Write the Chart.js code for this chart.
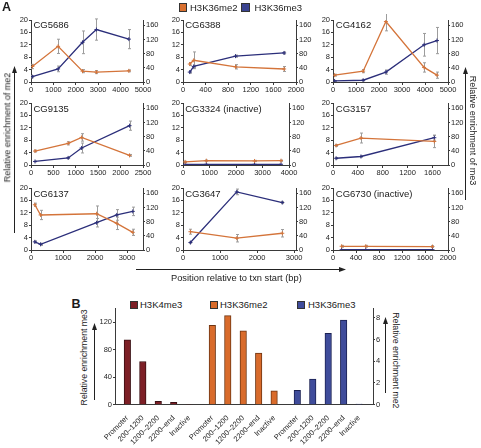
<!DOCTYPE html>
<html><head><meta charset="utf-8">
<script src="https://cdn.jsdelivr.net/npm/chart.js@4"></script>
<style>
html,body{margin:0;padding:0;background:#fff}
body{width:481px;height:448px;overflow:hidden;position:relative;font-family:"Liberation Sans",Arial,sans-serif;color:#1a1a1a}
canvas{position:absolute}
.t{position:absolute;white-space:nowrap;line-height:1}
.sq{position:absolute;box-sizing:border-box;border:1px solid #333}
svg{position:absolute;left:0;top:0}
</style></head><body>
<script>
// ---------- Panel A data (position bp, H3K36me2 on left axis, H3K36me3 on right axis) ----------
const cg5686Pos = [60, 1210, 2300, 2920, 4370];
const cg5686Me2 = [5.0, 11.5, 3.5, 3.2, 3.6];
const cg5686Me2Err = [0.7, 2.3, 0.5, 0.5, 0.3];
const cg5686Me3 = [15, 37, 112, 148, 121];
const cg5686Me3Err = [3, 8, 32, 30, 27];

const cg6388Pos = [120, 190, 930, 1790];
const cg6388Me2 = [5.8, 7.0, 4.9, 4.2];
const cg6388Me2Err = [0.5, 2.7, 0.7, 0.8];
const cg6388Me3 = [28, 44, 73, 82];
const cg6388Me3Err = [3, 3, 3, 3];

const cg4162Pos = [70, 1310, 2300, 3960, 4520];
const cg4162Me2 = [2.2, 3.5, 19.5, 4.7, 2.2];
const cg4162Me2Err = [0.3, 0.5, 3.0, 1.5, 1.0];
const cg4162Me3 = [3, 5, 28, 105, 117];
const cg4162Me3Err = [1, 2, 6, 32, 37];

const cg9135Pos = [90, 830, 1130, 2200];
const cg9135Me2 = [4.5, 7.0, 8.9, 3.1];
const cg9135Me2Err = [0.3, 0.5, 1.2, 0.3];
const cg9135Me3 = [10, 20, 48, 111];
const cg9135Me3Err = [1, 2, 14, 13];

const cg3324Pos = [80, 880, 2700, 3700];
const cg3324Me2 = [1.0, 1.4, 1.3, 1.4];
const cg3324Me2Err = [0.2, 0.2, 0.2, 0.2];
const cg3324Me3 = [2, 2, 2, 2];
const cg3324Me3Err = [0, 0, 0, 0];

const cg3157Pos = [50, 450, 1630];
const cg3157Me2 = [6.3, 8.7, 7.6];
const cg3157Me2Err = [0.3, 1.6, 2.0];
const cg3157Me3 = [19, 24, 77];
const cg3157Me3Err = [2, 2, 7];

const cg6137Pos = [120, 300, 2050, 2680, 3180];
const cg6137Me2 = [14.6, 11.3, 11.7, 8.6, 5.7];
const cg6137Me2Err = [0.5, 1.5, 2.5, 2.0, 1.0];
const cg6137Me3 = [23, 16, 77, 99, 109];
const cg6137Me3Err = [3, 3, 12, 15, 12];

const cg3647Pos = [200, 1450, 2680];
const cg3647Me2 = [5.9, 3.8, 5.4];
const cg3647Me2Err = [0.8, 1.2, 1.2];
const cg3647Me3 = [21, 164, 134];
const cg3647Me3Err = [2, 8, 3];

const cg6730Pos = [150, 570, 1730];
const cg6730Me2 = [1.2, 1.2, 1.1];
const cg6730Me2Err = [0.3, 0.3, 0.3];
const cg6730Me3 = [1, 1, 1];
const cg6730Me3Err = [0, 0, 0];

// tick label arrays
const me2Ticks = [0, 4, 8, 12, 16, 20];
const me3Ticks = [0, 40, 80, 120, 160];
const ticks5000 = [0, 1000, 2000, 3000, 4000, 5000];
const ticks4000 = [0, 1000, 2000, 3000, 4000];
const ticks3000 = [0, 1000, 2000, 3000];
const ticks2500 = [0, 500, 1000, 1500, 2000, 2500];
const ticks2000 = [0, 400, 800, 1200, 1600, 2000];
const ticks1600 = [0, 400, 800, 1200, 1600];

// ---------- Panel B data ----------
const regionLabels = ['Promoter', '200–1200', '1200–2200', '2200–end', 'Inactive'];
const markNames = ['H3K4me3', 'H3K36me2', 'H3K36me3'];
const h3k4me3Bars = [94.5, 63, 5, 3.5, 0.6];      // left axis (me3)
const h3k36me2Bars = [7.3, 8.2, 6.8, 4.75, 1.27]; // right axis (me2)
const h3k36me3Bars = [21, 37.5, 104, 123.5, 1];   // left axis (me3)
const barMe3Ticks = [0, 40, 80, 120];
const barMe2Ticks = [0, 2, 4, 6, 8];

// ---------- styles ----------
const FONT = '"Liberation Sans", Arial, sans-serif';
const ORANGE = '#d4743a', BLUE = '#2b2e7a', ERR = '#9c9c9c', AX = '#3a3a3a', TXT = '#1e1e1e';
const BAR_COL = ['#7d1f26', '#d96b2b', '#3f4c9b'];
const BAR_EDGE = ['#3a0f13', '#6e3512', '#1b2152'];
const plain = v => String(v);

function txt(s, x, capTop, fs, opt = {}) {
  const d = document.createElement('div');
  d.className = 't';
  d.textContent = s;
  d.style.fontSize = fs + 'px';
  d.style.left = x + 'px';
  d.style.top = (capTop - 0.13 * fs) + 'px';
  if (opt.bold) d.style.fontWeight = 'bold';
  document.body.appendChild(d);
  return d;
}
function rtxt(s, cx, cy, fs, deg) {
  const d = document.createElement('div');
  d.className = 't';
  d.textContent = s;
  d.style.fontSize = fs + 'px';
  document.body.appendChild(d);
  const w = d.offsetWidth, h = d.offsetHeight;
  d.style.left = (cx - w / 2) + 'px';
  d.style.top = (cy - h / 2) + 'px';
  d.style.transform = 'rotate(' + deg + 'deg)';
}
function sq(x, y, s, fill) {
  const d = document.createElement('div');
  d.className = 'sq';
  d.style.left = x + 'px'; d.style.top = y + 'px';
  d.style.width = s + 'px'; d.style.height = s + 'px';
  d.style.background = fill;
  document.body.appendChild(d);
}

const errPlugin = {
  id: 'errbars',
  beforeDatasetsDraw(chart) {
    const ctx = chart.ctx;
    const xs = chart.scales.x;
    chart.data.datasets.forEach(ds => {
      if (!ds.errors) return;
      const ys = chart.scales[ds.yAxisID];
      ctx.save();
      ctx.strokeStyle = ERR; ctx.lineWidth = 1;
      ds.data.forEach((p, j) => {
        const e = ds.errors[j];
        if (!e) return;
        const x = Math.round(xs.getPixelForValue(p.x)) + 0.5;
        const y1 = ys.getPixelForValue(p.y - e), y2 = ys.getPixelForValue(p.y + e);
        ctx.beginPath();
        ctx.moveTo(x, y1); ctx.lineTo(x, y2);
        ctx.moveTo(x - 1.5, y1); ctx.lineTo(x + 1.5, y1);
        ctx.moveTo(x - 1.5, y2); ctx.lineTo(x + 1.5, y2);
        ctx.stroke();
      });
      ctx.restore();
    });
  }
};

function fixedTicks(arr) { return a => { a.ticks = arr.map(v => ({ value: v })); }; }

function smallChart(s) {
  const padL = 32, padR = 20, padT = 6, padB = 16;
  const W = Math.round(s.r - s.l + padL + padR), H = Math.round(s.b - s.t + padT + padB);
  const c = document.createElement('canvas');
  c.width = W; c.height = H;
  c.style.left = (s.l - padL) + 'px'; c.style.top = (s.t - padT) + 'px';
  c.style.width = W + 'px'; c.style.height = H + 'px';
  document.body.appendChild(c);
  const tickFont = { family: FONT, size: 7.5 };
  const axisCommon = {
    grid: { drawOnChartArea: false, drawTicks: true, tickLength: 2, color: AX },
    border: { display: true, color: AX, width: 1 },
  };
  new Chart(c, {
    type: 'line',
    data: {
      datasets: [
        { label: 'H3K36me2', data: s.pos.map((x, i) => ({ x, y: s.me2[i] })), errors: s.me2Err, yAxisID: 'y',
          borderColor: ORANGE, backgroundColor: ORANGE, borderWidth: 1.3, pointStyle: 'cross', pointRadius: 2, pointBorderWidth: 1, tension: 0 },
        { label: 'H3K36me3', data: s.pos.map((x, i) => ({ x, y: s.me3[i] })), errors: s.me3Err, yAxisID: 'y2',
          borderColor: BLUE, backgroundColor: BLUE, borderWidth: 1.3, pointStyle: 'cross', pointRadius: 2, pointBorderWidth: 1, tension: 0 }
      ]
    },
    options: {
      responsive: false, animation: false, devicePixelRatio: 1,
      layout: { padding: { top: padT, left: 0, right: 0, bottom: 0 } },
      plugins: { legend: { display: false }, tooltip: { enabled: false } },
      scales: {
        x: { type: 'linear', min: 0, max: s.xMax, afterBuildTicks: fixedTicks(s.xTicks), afterFit: a => { a.height = padB; },
          ticks: { font: tickFont, color: TXT, padding: 0, maxRotation: 0, autoSkip: false, callback: plain }, ...axisCommon,
          grid: { drawOnChartArea: false, drawTicks: true, tickLength: 3, color: AX } },
        y: { position: 'left', min: 0, max: 20, afterBuildTicks: fixedTicks(me2Ticks), afterFit: a => { a.width = padL; },
          ticks: { font: tickFont, color: TXT, padding: 1, callback: plain }, ...axisCommon },
        y2: { position: 'right', min: 0, max: 175, afterBuildTicks: fixedTicks(me3Ticks), afterFit: a => { a.width = padR; },
          ticks: { font: tickFont, color: TXT, padding: 1, callback: plain }, ...axisCommon }
      }
    },
    plugins: [errPlugin]
  });
  txt(s.name, s.l + 2.5, s.t + 1.7, 9.5);
}

// layout of the 3x3 grid (plot-area boxes)
const colL = [31, 182.7, 333.3], colR = [143.3, 295.7, 448];
const rowT = [20, 103.3, 188.3], rowB = [81.7, 165, 250];
const specs = [
  { name: 'CG5686', pos: cg5686Pos, me2: cg5686Me2, me2Err: cg5686Me2Err, me3: cg5686Me3, me3Err: cg5686Me3Err, xMax: 5000, xTicks: ticks5000 },
  { name: 'CG6388', pos: cg6388Pos, me2: cg6388Me2, me2Err: cg6388Me2Err, me3: cg6388Me3, me3Err: cg6388Me3Err, xMax: 2000, xTicks: ticks2000 },
  { name: 'CG4162', pos: cg4162Pos, me2: cg4162Me2, me2Err: cg4162Me2Err, me3: cg4162Me3, me3Err: cg4162Me3Err, xMax: 5000, xTicks: ticks5000 },
  { name: 'CG9135', pos: cg9135Pos, me2: cg9135Me2, me2Err: cg9135Me2Err, me3: cg9135Me3, me3Err: cg9135Me3Err, xMax: 2500, xTicks: ticks2500 },
  { name: 'CG3324 (inactive)', pos: cg3324Pos, me2: cg3324Me2, me2Err: cg3324Me2Err, me3: cg3324Me3, me3Err: cg3324Me3Err, xMax: 4000, xTicks: ticks4000, rAdj: -7 },
  { name: 'CG3157', pos: cg3157Pos, me2: cg3157Me2, me2Err: cg3157Me2Err, me3: cg3157Me3, me3Err: cg3157Me3Err, xMax: 1850, xTicks: ticks1600 },
  { name: 'CG6137', pos: cg6137Pos, me2: cg6137Me2, me2Err: cg6137Me2Err, me3: cg6137Me3, me3Err: cg6137Me3Err, xMax: 3500, xTicks: ticks3000 },
  { name: 'CG3647', pos: cg3647Pos, me2: cg3647Me2, me2Err: cg3647Me2Err, me3: cg3647Me3, me3Err: cg3647Me3Err, xMax: 3050, xTicks: ticks3000 },
  { name: 'CG6730 (inactive)', pos: cg6730Pos, me2: cg6730Me2, me2Err: cg6730Me2Err, me3: cg6730Me3, me3Err: cg6730Me3Err, xMax: 2000, xTicks: ticks2000 }
];
specs.forEach((s, i) => {
  const r = Math.floor(i / 3), c = i % 3;
  s.l = colL[c]; s.r = colR[c] + (s.rAdj || 0); s.t = rowT[r]; s.b = rowB[r];
  smallChart(s);
});

// ---------- Panel A decorations ----------
txt('A', 2, 2.8, 12.5, { bold: true });
sq(178.5, 3, 8.5, '#d9702f'); txt('H3K36me2', 190, 4.2, 9.5);
sq(241, 3, 8.5, '#3a4390'); txt('H3K36me3', 254.5, 4.2, 9.5);
rtxt('Relative enrichment of me2', 7.5, 127, 9, -90);
rtxt('Relative enrichment of me3', 473, 130, 9, 90);
txt('Position relative to txn start (bp)', 171, 275, 9.3);

// ---------- Panel B ----------
txt('B', 71.5, 300, 12.5, { bold: true });
sq(129.5, 300.5, 8, BAR_COL[0]); txt(markNames[0], 140, 301.5, 9.5);
sq(209.5, 300.5, 8, BAR_COL[1]); txt(markNames[1], 220, 301.5, 9.5);
sq(297, 300.5, 8, BAR_COL[2]); txt(markNames[2], 308, 301.5, 9.5);
rtxt('Relative enrichment me3', 84, 357, 8.7, -90);
rtxt('Relative enrichment me2', 396, 360, 8.7, 90);

(function barChart() {
  const pl = 115, pr = 372.7, pt = 308.3, pb = 404.7;
  const padL = 30, padR = 22, padT = 8, padB = 43.3;
  const W = Math.round(pr - pl + padL + padR), H = Math.round(pb - pt + padT + padB);
  const c = document.createElement('canvas');
  c.width = W; c.height = H;
  c.style.left = (pl - padL) + 'px'; c.style.top = (pt - padT) + 'px';
  c.style.width = W + 'px'; c.style.height = H + 'px';
  document.body.appendChild(c);
  const series = [h3k4me3Bars, h3k36me2Bars, h3k36me3Bars];
  const slot = (g, i) => g * 5.5 + i;
  const positions = [];
  series.forEach((v, g) => v.forEach((_, i) => positions.push(slot(g, i))));
  const tickFont = { family: FONT, size: 7.5 };
  new Chart(c, {
    type: 'bar',
    data: {
      datasets: series.map((vals, g) => ({
        label: markNames[g],
        data: vals.map((y, i) => ({ x: slot(g, i), y })),
        yAxisID: g === 1 ? 'y2' : 'y',
        backgroundColor: BAR_COL[g], borderColor: BAR_EDGE[g], borderWidth: 1,
        barThickness: 6.5, grouped: false
      }))
    },
    options: {
      responsive: false, animation: false, devicePixelRatio: 1,
      layout: { padding: { top: padT, left: 0, right: 0, bottom: 0 } },
      plugins: { legend: { display: false }, tooltip: { enabled: false } },
      scales: {
        x: { type: 'linear', min: -0.8, max: 15.9, offset: false,
          afterBuildTicks: fixedTicks(positions), afterFit: a => { a.height = padB; },
          ticks: { font: tickFont, color: TXT, padding: 1, minRotation: 45, maxRotation: 45, autoSkip: false,
            callback: (v, idx) => regionLabels[idx % 5] },
          grid: { display: false }, border: { display: true, color: AX, width: 1 } },
        y: { position: 'left', min: 0, max: 141, afterBuildTicks: fixedTicks(barMe3Ticks), afterFit: a => { a.width = padL; },
          ticks: { font: tickFont, color: TXT, padding: 1, callback: plain },
          grid: { drawOnChartArea: false, drawTicks: true, tickLength: 2, color: AX }, border: { display: true, color: AX, width: 1 } },
        y2: { position: 'right', min: 0, max: 8.9, afterBuildTicks: fixedTicks(barMe2Ticks), afterFit: a => { a.width = padR; },
          ticks: { font: tickFont, color: TXT, padding: 1, callback: plain },
          grid: { drawOnChartArea: false, drawTicks: true, tickLength: 2, color: AX }, border: { display: true, color: AX, width: 1 } }
      }
    }
  });
})();

// ---------- arrows (decoration) ----------
const ns = 'http://www.w3.org/2000/svg';
const svg = document.createElementNS(ns, 'svg');
svg.setAttribute('width', 481); svg.setAttribute('height', 448);
svg.innerHTML =
  '<g stroke="#222" stroke-width="1" fill="#222">' +
  '<line x1="14.5" y1="233" x2="14.5" y2="71"/><path d="M14.5 66 L12 73 L17 73 Z" stroke="none"/>' +
  '<line x1="465.5" y1="200" x2="465.5" y2="72"/><path d="M465.5 67 L463 74 L468 74 Z" stroke="none"/>' +
  '<line x1="136" y1="269.5" x2="341" y2="269.5"/><path d="M346 269.5 L339 267 L339 272 Z" stroke="none"/>' +
  '<line x1="94.5" y1="400" x2="94.5" y2="328"/><path d="M94.5 323 L92 330 L97 330 Z" stroke="none"/>' +
  '<line x1="385.5" y1="393" x2="385.5" y2="322"/><path d="M385.5 317 L383 324 L388 324 Z" stroke="none"/>' +
  '</g>';
document.body.appendChild(svg);
</script>
</body></html>
